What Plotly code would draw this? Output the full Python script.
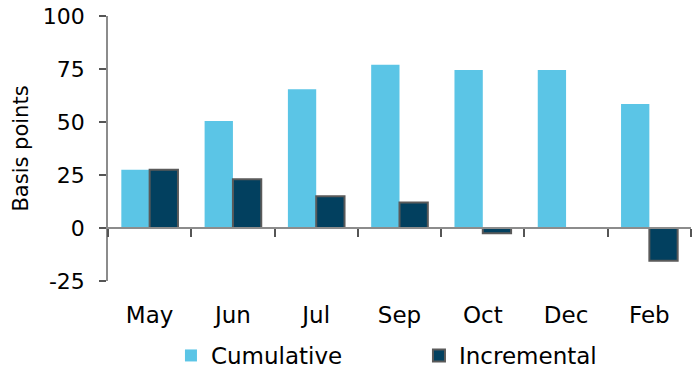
import plotly.graph_objects as go

months = ["May", "Jun", "Jul", "Sep", "Oct", "Dec", "Feb"]
cumulative = [27.5, 50.5, 65.5, 77.0, 74.5, 74.5, 58.5]
incremental = [27.5, 23.0, 15.0, 12.0, -2.5, None, -15.5]
y_ticks = [-25, 0, 25, 50, 75, 100]
y_ticktext = ["-25", "0", "25", "50", "75", "100"]

FONT = "DejaVu Sans"
AX = "#8c8c8c"

fig = go.Figure()
fig.add_trace(go.Bar(name="Cumulative", x=months, y=cumulative,
                     marker=dict(color="#5BC5E6", line=dict(width=0))))
fig.add_trace(go.Bar(name="Incremental", x=months, y=incremental,
                     marker=dict(color="#02405F", line=dict(color="#5a5a5a", width=2))))
# invisible helper trace so the label axis (x2) is drawn
fig.add_trace(go.Scatter(x=list(range(len(months))), y=cumulative, xaxis="x2",
                         mode="none", showlegend=False, hoverinfo="skip"))

fig.update_layout(
    width=692, height=377,
    margin=dict(l=108, r=1, t=16, b=95),
    paper_bgcolor="white", plot_bgcolor="white",
    barmode="group", bargap=0.32, bargroupgap=0,
    font=dict(family=FONT, size=21, color="black"),
    showlegend=True,
    legend=dict(orientation="h", x=0.108, xanchor="left", y=-0.278, yanchor="middle",
                font=dict(size=23), entrywidth=203, entrywidthmode="pixels",
                itemclick=False, bgcolor="rgba(0,0,0,0)"),
    xaxis=dict(type="category", categoryarray=months, range=[-0.5, 6.5],
               anchor="free", position=0.2, showline=True, linecolor=AX, linewidth=1.5,
               ticks="outside", tickson="boundaries", ticklen=8, tickcolor="#555", tickwidth=1.5,
               showticklabels=False, showgrid=False, zeroline=False, automargin=False),
    xaxis2=dict(overlaying="x", anchor="y", side="bottom", type="linear", range=[-0.5, 6.5],
                tickmode="array", tickvals=list(range(len(months))), ticktext=months,
                showline=False, ticks="", showgrid=False, zeroline=False,
                ticklabelstandoff=18, tickfont=dict(size=23), automargin=False,
                ticklabeloverflow="allow"),
    yaxis=dict(range=[-25, 100], tickmode="array", tickvals=y_ticks, ticktext=y_ticktext,
               showline=True, linecolor=AX, linewidth=1.5,
               ticks="outside", ticklen=7, tickcolor="#555", tickwidth=1.5,
               ticklabelstandoff=10, showgrid=False, zeroline=False,
               tickfont=dict(size=22), automargin=False, ticklabeloverflow="allow",
               title=dict(text="Basis points", font=dict(size=21), standoff=8)),
)

fig.write_html("out.html", config={"displayModeBar": False},
               post_script="document.body.style.margin='0';document.body.style.overflow='hidden';")
